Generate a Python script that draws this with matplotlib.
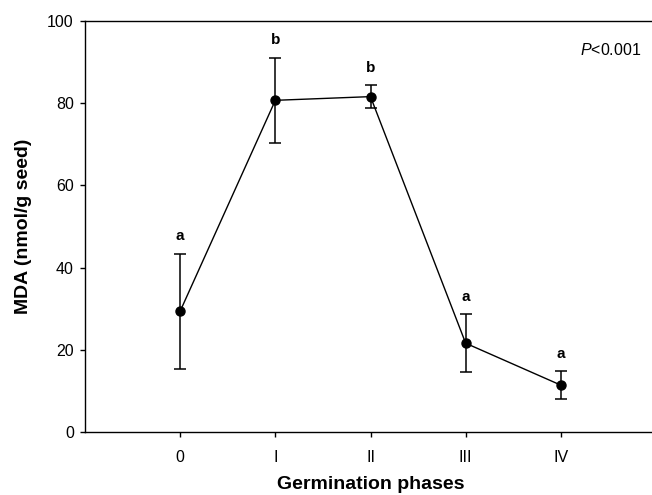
import matplotlib
matplotlib.use("Agg")
import matplotlib.pyplot as plt

plt.rcParams['font.family'] = ['Liberation Sans', 'DejaVu Sans']
plt.rcParams['mathtext.fontset'] = 'custom'
plt.rcParams['mathtext.rm'] = 'Liberation Sans'
plt.rcParams['mathtext.it'] = 'Liberation Sans:italic'

phases = ["0", "I", "II", "III", "IV"]
mda = [29.4, 80.7, 81.6, 21.6, 11.4]
err = [14.0, 10.4, 2.8, 7.1, 3.4]
groups = ["a", "b", "b", "a", "a"]
yticks = [0, 20, 40, 60, 80, 100]

W, H, DPI = 652, 495, 100
fig = plt.figure(figsize=(W / DPI, H / DPI), dpi=DPI)
ax = fig.add_axes([85 / W, (H - 432) / H, (656 - 85) / W, (432 - 21) / H])

x = list(range(len(phases)))
ax.errorbar(x, mda, yerr=err, fmt='-o', color='black', ecolor='black',
            lw=1.0, elinewidth=1.1, capsize=4.3, capthick=1.1,
            markersize=6.5, zorder=3)

for xi, yi, ei, g in zip(x, mda, err, groups):
    ax.annotate(g, (xi, yi + ei), xytext=(0, 9.5), textcoords='offset points',
                ha='center', va='baseline', fontsize=11, fontweight='bold')

ax.text(0.92, 0.93, r"$\mathit{P}$<0.001", transform=ax.transAxes,
        ha='center', va='center', fontsize=11.5)

ax.set_xlim(-1, 5)
ax.set_ylim(0, 100)
ax.set_xticks(x)
ax.set_xticklabels(phases)
ax.set_yticks(yticks)

for s in ax.spines.values():
    s.set_linewidth(1.0)
ax.spines['right'].set_visible(False)

ax.tick_params(axis='both', direction='out', length=3.6, width=1.0, labelsize=11.5)
ax.tick_params(axis='y', pad=4.5)
ax.tick_params(axis='x', pad=9)

ax.set_ylabel("MDA (nmol/g seed)", fontsize=14, fontweight='bold', labelpad=11)
ax.set_xlabel("Germination phases", fontsize=14, fontweight='bold', labelpad=8)

fig.savefig("out.png", dpi=DPI)
